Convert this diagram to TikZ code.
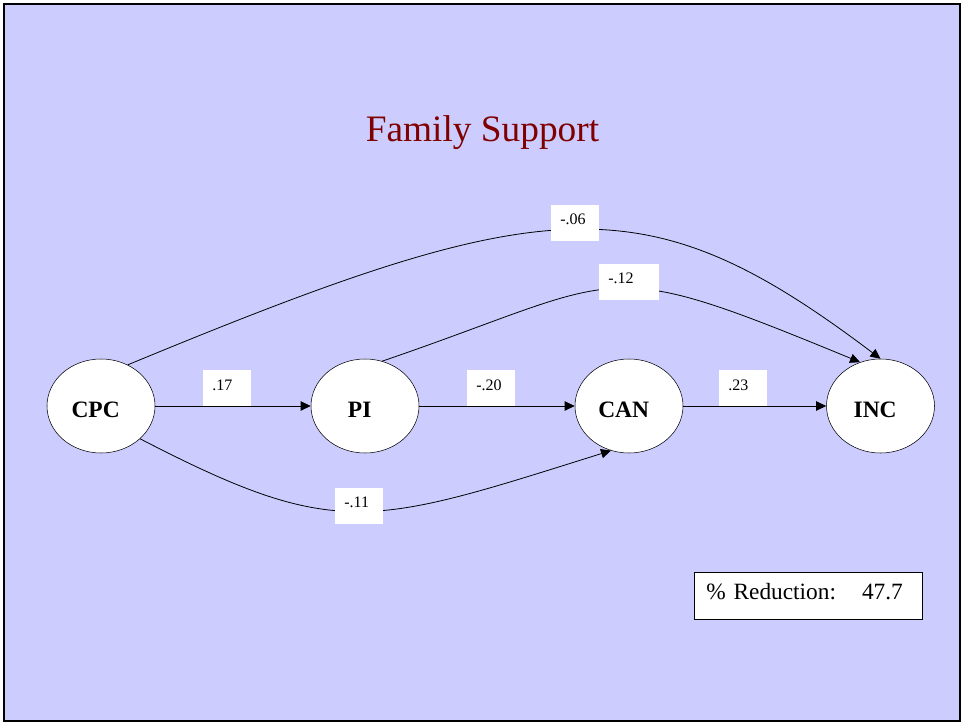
\documentclass[tikz,border=0pt]{standalone}
\usepackage{fontspec}
\setmainfont{Liberation Serif}
\usetikzlibrary{arrows.meta,shapes.geometric}
\definecolor{bgblue}{RGB}{204,204,255}
\definecolor{titlered}{RGB}{128,0,0}

\begin{document}
\begin{tikzpicture}[x=0.75pt,y=0.75pt,yscale=-1,xscale=1,
    var/.style={ellipse,draw,fill=white,inner sep=0pt,minimum width=81pt,minimum height=70.5pt,
        text height=17pt,text depth=0pt,execute at begin node=\hspace*{-8pt},
        font=\fontsize{17.6}{20}\selectfont\bfseries},
    path/.style={-{Triangle[length=7.5pt,width=7pt]},line width=0.6pt},
    coef/.style={fill=white,anchor=south west,inner ysep=0pt,inner xsep=6.75pt,
        text height=15pt,text depth=12pt,text width=22.5pt,align=left,
        font=\fontsize{12}{14}\selectfont}]
    \useasboundingbox (0,0) rectangle (961,723);
    \draw [line width=1.5pt,fill=bgblue] (4,4) rectangle (959.5,720.5);

    \node [anchor=base,text=titlered,font=\fontsize{28}{32}\selectfont] (title) at (482.5,141.7) {Family Support};

    % variables
    \node [var] (cpc) at (101,406) {CPC};
    \node [var] (pi)  at (365,406) {PI};
    \node [var] (can) at (629,406) {CAN};
    \node [var] (inc) at (880.5,406) {INC};

    % paths
    \draw [path] (cpc) -- (pi);
    \draw [path] (pi) -- (can);
    \draw [path] (can) -- (inc);
    \draw [path] (cpc.57) .. controls (550,190) and (646,182) .. (inc.90);
    \draw [path] (pi.69) .. controls (631,276) and (595,253) .. (inc.115);
    \draw [path] (cpc.-40) .. controls (337.5,541) and (370.5,526) .. (can.248);

    % coefficients
    \node [coef] (c17) at (203,406.5) {.17};
    \node [coef] (c20) at (467,406.5) {-.20};
    \node [coef] (c23) at (719,406.5) {.23};
    \node [coef] (c06) at (551,241) {-.06};
    \node [coef,text width=31.5pt] (c12) at (599,300) {-.12};
    \node [coef] (c11) at (335,524) {-.11};

    \node [draw,fill=white,anchor=north west,line width=0.6pt,inner ysep=0pt,inner xsep=9pt,
        text height=20.25pt,text depth=15pt,text width=153pt,align=left,
        font=\fontsize{17.5}{20}\selectfont] (red) at (694,572) {\%~Reduction:\hspace*{19.5pt}47.7};
\end{tikzpicture}
\end{document}
